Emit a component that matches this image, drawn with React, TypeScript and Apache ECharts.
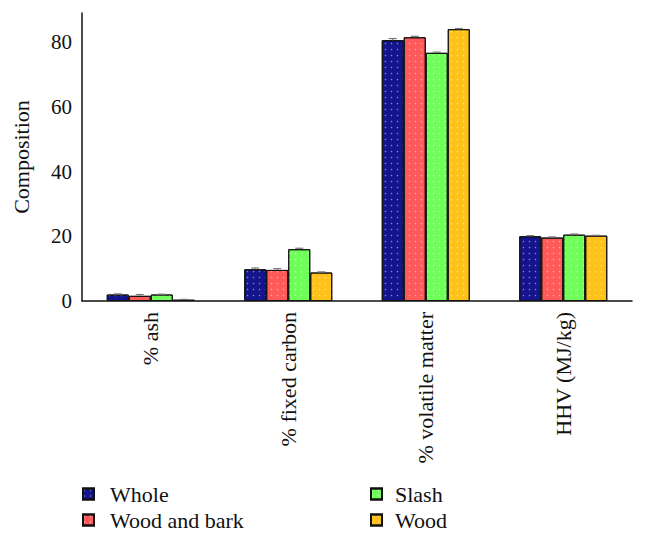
import React, { useEffect, useRef } from "react";
import * as echarts from "echarts";

const categories = ["% ash", "% fixed carbon", "% volatile matter", "HHV (MJ/kg)"];
const seriesNames = ["Whole", "Wood and bark", "Slash", "Wood"];
const wholeValues = [2.0, 9.8, 80.6, 20.0];
const woodBarkValues = [1.6, 9.6, 81.5, 19.6];
const slashValues = [2.0, 16.0, 76.7, 20.5];
const woodValues = [0.4, 8.8, 84.0, 20.2];
const wholeErr = [0.2, 0.4, 0.5, 0.2];
const woodBarkErr = [0.4, 0.4, 0.3, 0.2];
const slashErr = [0.1, 0.3, 0.2, 0.2];
const woodErr = [0.1, 0.2, 0.2, 0.1];
const yTicks = [0, 20, 40, 60, 80];

const colors = ["#14148c", "#ff5a5a", "#70ff5a", "#ffc21a"];
const FONT = "'Liberation Serif', 'Times New Roman', serif";
const BAR_W = 22;

export default function App() {
  const ref = useRef<HTMLDivElement>(null);
  useEffect(() => {
    if (!ref.current) return;
    const chart = echarts.init(ref.current, null, { renderer: "svg" });
    const values = [wholeValues, woodBarkValues, slashValues, woodValues];
    const errs = [wholeErr, woodBarkErr, slashErr, woodErr];
    const errData: number[][] = [];
    values.forEach((arr, s) =>
      arr.forEach((v, c) => errData.push([c, v, errs[s][c], s]))
    );
    const barSeries = seriesNames.map((name, i) => ({
      name,
      type: "bar",
      data: values[i],
      barWidth: BAR_W,
      barGap: "0%",
      itemStyle: {
        color: colors[i],
        borderColor: "#111",
        borderWidth: 1,
        decal: {
          symbol: "circle",
          symbolSize: 0.5,
          color: "rgba(255,255,255,0.45)",
          dashArrayX: 3,
          dashArrayY: 3,
        },
      },
    }));
    const legendText = {
      fontFamily: FONT,
      fontSize: 22,
      color: "#111",
      padding: [0, 0, 0, 11],
    };
    chart.setOption({
      animation: false,
      textStyle: { fontFamily: FONT },
      grid: { left: 82, right: 14, top: 13, bottom: 241 },
      legend: [
        {
          data: [seriesNames[0], seriesNames[1]],
          orient: "vertical",
          left: 77,
          top: 478,
          icon: "rect",
          itemWidth: 11,
          itemHeight: 11,
          itemGap: 4,
          textStyle: legendText,
        },
        {
          data: [seriesNames[2], seriesNames[3]],
          orient: "vertical",
          left: 365,
          top: 478,
          icon: "rect",
          itemWidth: 11,
          itemHeight: 11,
          itemGap: 4,
          textStyle: { ...legendText, padding: [0, 0, 0, 8] },
        },
      ],
      xAxis: {
        type: "category",
        data: categories,
        axisLine: { lineStyle: { color: "#111", width: 1.5 } },
        axisTick: { show: false },
        axisLabel: {
          rotate: 90,
          margin: 11,
          fontFamily: FONT,
          fontSize: 22,
          color: "#111",
        },
      },
      yAxis: {
        type: "value",
        min: yTicks[0],
        max: 89,
        interval: 20,
        name: "Composition",
        nameLocation: "middle",
        nameGap: 50,
        nameRotate: 90,
        nameTextStyle: { fontFamily: FONT, fontSize: 22, color: "#111" },
        axisLine: { show: true, lineStyle: { color: "#111", width: 1.5 } },
        axisTick: { show: false },
        splitLine: { show: false },
        axisLabel: {
          showMaxLabel: false,
          margin: 10,
          fontFamily: FONT,
          fontSize: 21,
          color: "#111",
        },
      },
      series: [
        ...barSeries,
        {
          type: "custom",
          name: "err",
          data: errData,
          z: 10,
          renderItem: (params: any, api: any) => {
            const c = api.value(0);
            const v = api.value(1);
            const e = api.value(2);
            const s = api.value(3);
            const hi = api.coord([c, v + e]);
            const lo = api.coord([c, v]);
            const x = hi[0] + (s - 1.5) * BAR_W;
            const hw = 4;
            const style = { stroke: "#777", lineWidth: 1.2 };
            return {
              type: "group",
              children: [
                { type: "line", shape: { x1: x, y1: hi[1], x2: x, y2: lo[1] }, style },
                { type: "line", shape: { x1: x - hw, y1: hi[1], x2: x + hw, y2: hi[1] }, style },
              ],
            };
          },
        },
      ],
    });
    return () => chart.dispose();
  }, []);
  return <div ref={ref} style={{ width: 646, height: 542, position: "absolute", left: 0, top: 0 }} />;
}
